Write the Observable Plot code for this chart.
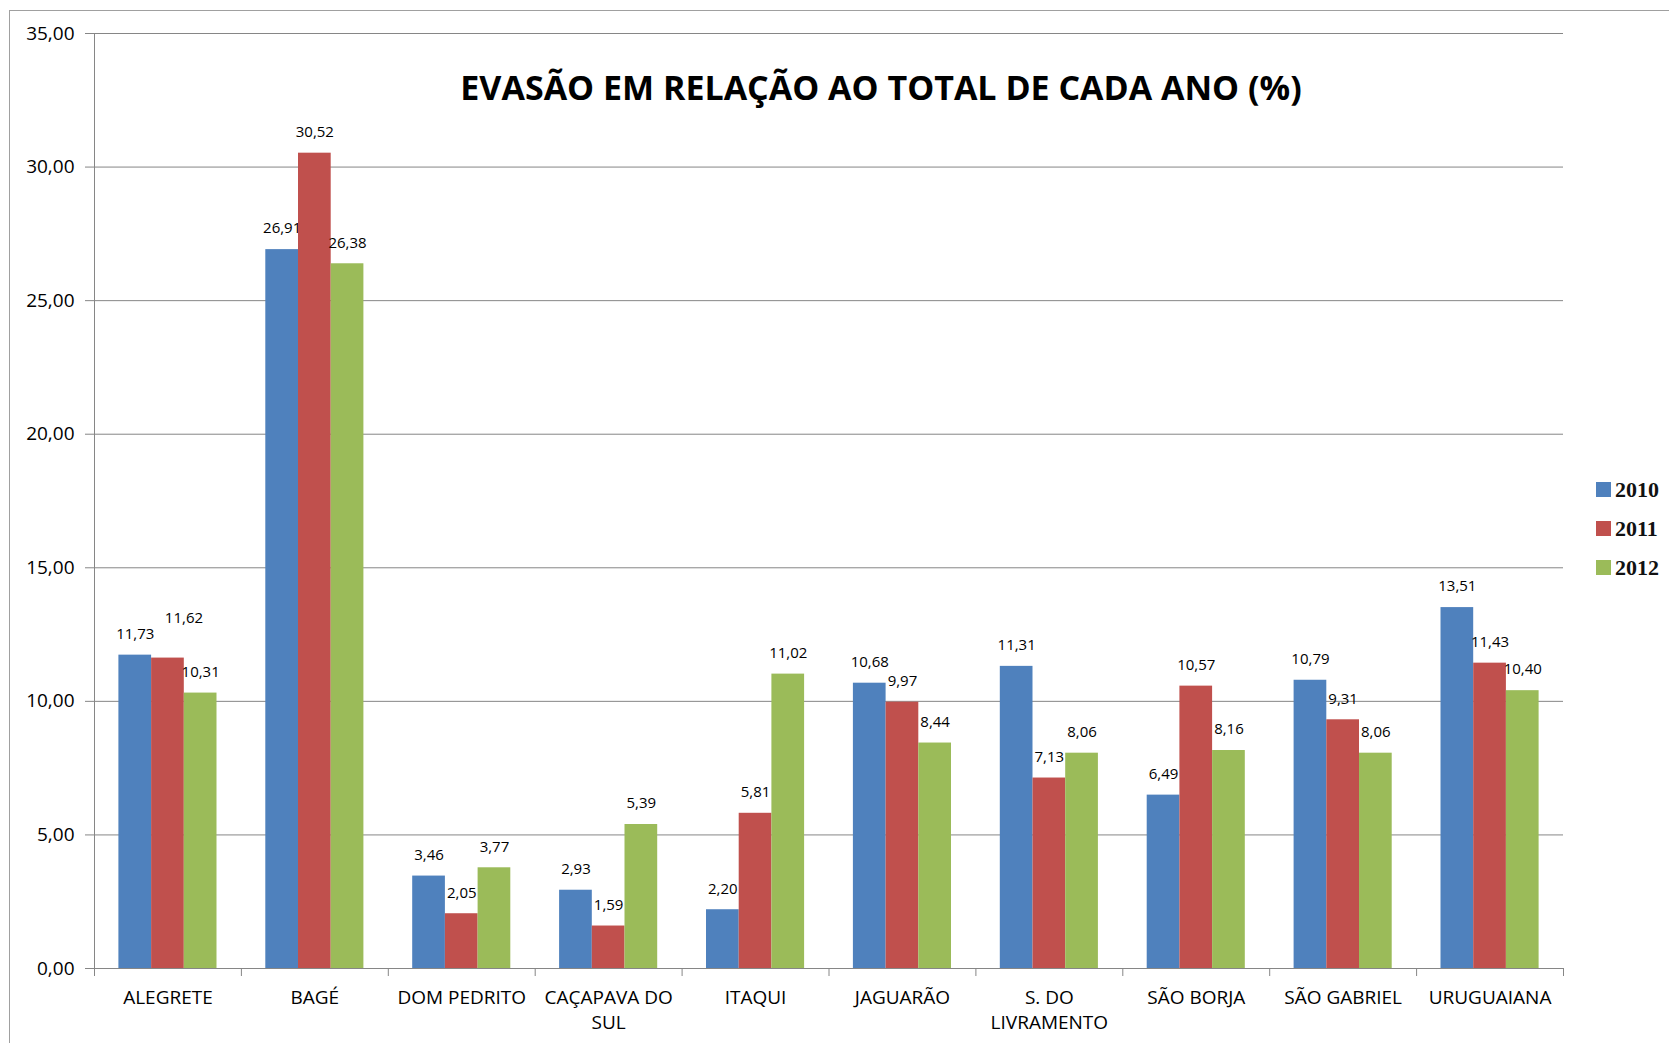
<!DOCTYPE html>
<html><head><meta charset="utf-8">
<script src="https://cdn.jsdelivr.net/npm/d3@7"></script>
<script src="https://cdn.jsdelivr.net/npm/@observablehq/plot@0.6"></script>
<style>
html,body{margin:0;padding:0;background:#fff;overflow:hidden;}
#wrap{position:relative;width:1669px;height:1043px;overflow:hidden;font-family:"Open Sans",sans-serif;}
#border{position:absolute;left:9px;top:10px;width:1700px;height:1100px;border:1px solid #a0a0a0;box-sizing:border-box;}
#chart{position:absolute;left:0;top:0;}
#legend{position:absolute;left:1596px;top:470px;font-family:"Liberation Serif",serif;font-size:22px;font-weight:bold;color:#111;}
.li{display:flex;align-items:center;height:39px;}
.sw{width:15px;height:15px;margin-right:4px;}
</style></head><body>
<div id="wrap"><div id="border"></div><div id="chart"></div><div id="legend"></div></div>
<script>
const title = "EVASÃO EM RELAÇÃO AO TOTAL DE CADA ANO (%)";
const cities = ["ALEGRETE","BAGÉ","DOM PEDRITO","CAÇAPAVA DO SUL","ITAQUI","JAGUARÃO","S. DO LIVRAMENTO","SÃO BORJA","SÃO GABRIEL","URUGUAIANA"];
const cityLabels = ["ALEGRETE","BAGÉ","DOM PEDRITO","CAÇAPAVA DO\nSUL","ITAQUI","JAGUARÃO","S. DO\nLIVRAMENTO","SÃO BORJA","SÃO GABRIEL","URUGUAIANA"];
const years = ["2010","2011","2012"];
const values2010 = [11.73,26.91,3.46,2.93,2.20,10.68,11.31,6.49,10.79,13.51];
const values2011 = [11.62,30.52,2.05,1.59,5.81,9.97,7.13,10.57,9.31,11.43];
const values2012 = [10.31,26.38,3.77,5.39,11.02,8.44,8.06,8.16,8.06,10.40];
const yTicks = [0,5,10,15,20,25,30,35];
const colors = ["#4F81BD","#C0504D","#9BBB59"];

const series = [values2010, values2011, values2012];
const W = 1669, H = 1043, mL = 94, mR = 106, mT = 33, mB = 75;
const bw = (W - mL - mR) / cities.length;
const barW = 32.7;
const gap = (bw - 3 * barW) / 2;
const grid = "#868686";
const fmt = v => d3.format(".2f")(v).replace(".", ",");

const marks = [
  Plot.gridY(yTicks.filter(t => t > 0), {stroke: grid, strokeOpacity: 1}),
  Plot.ruleY([0], {stroke: grid}),
  Plot.ruleX([cities[0]], {dx: -bw / 2, y1: -0.3, y2: 35, stroke: grid}),
  Plot.ruleX(cities, {dx: -bw / 2, y1: 0, y2: -0.3, stroke: grid}),
  Plot.ruleX([cities[cities.length - 1]], {dx: bw / 2, y1: 0, y2: -0.3, stroke: grid})
];
// a middle label is lifted when it would collide with a neighbouring label
const collides = (k, i) => i === 1 &&
  (Math.abs(values2011[k] - values2010[k]) < 0.6 || Math.abs(values2011[k] - values2012[k]) < 0.6);
series.forEach((vals, i) => {
  const rows = cities.map((c, k) => ({city: c, value: vals[k], k}));
  marks.push(Plot.barY(rows, {
    x: "city", y: "value", fill: colors[i],
    insetLeft: gap + i * barW, insetRight: bw - gap - (i + 1) * barW
  }));
  const textOpts = {x: "city", y: "value", text: d => fmt(d.value), fontSize: 15, fill: "#000"};
  marks.push(Plot.text(rows.filter(d => !collides(d.k, i)), {...textOpts, dx: (i - 1) * barW, dy: -21}));
  marks.push(Plot.text(rows.filter(d => collides(d.k, i)), {...textOpts, dx: (i - 1) * barW + 16, dy: -40}));
});
marks.push(
  Plot.axisY({ticks: yTicks, tickSize: 9, tickPadding: 11, tickFormat: fmt, fontSize: 19,
              stroke: grid, fill: "#000", label: null}),
  Plot.axisX({tickSize: 0, tickPadding: 18, fontSize: 19, lineHeight: 1.3, fill: "#000",
              tickFormat: d => cityLabels[cities.indexOf(d)], label: null}),
  Plot.text([title], {frameAnchor: "top", dx: 52, dy: 42, fontSize: 34, fontWeight: "bold", fill: "#000"})
);

const chart = Plot.plot({
  width: W, height: H,
  marginLeft: mL, marginRight: mR, marginTop: mT, marginBottom: mB,
  style: {fontFamily: "'Open Sans', sans-serif", background: "transparent", color: "#000"},
  x: {type: "band", domain: cities, padding: 0, round: false},
  y: {domain: [0, 35]},
  marks
});
document.getElementById("chart").appendChild(chart);

const legend = document.getElementById("legend");
years.forEach((y, i) => {
  const row = document.createElement("div");
  row.className = "li";
  row.innerHTML = `<div class="sw" style="background:${colors[i]}"></div><span>${y}</span>`;
  legend.appendChild(row);
});
</script>
</body></html>
